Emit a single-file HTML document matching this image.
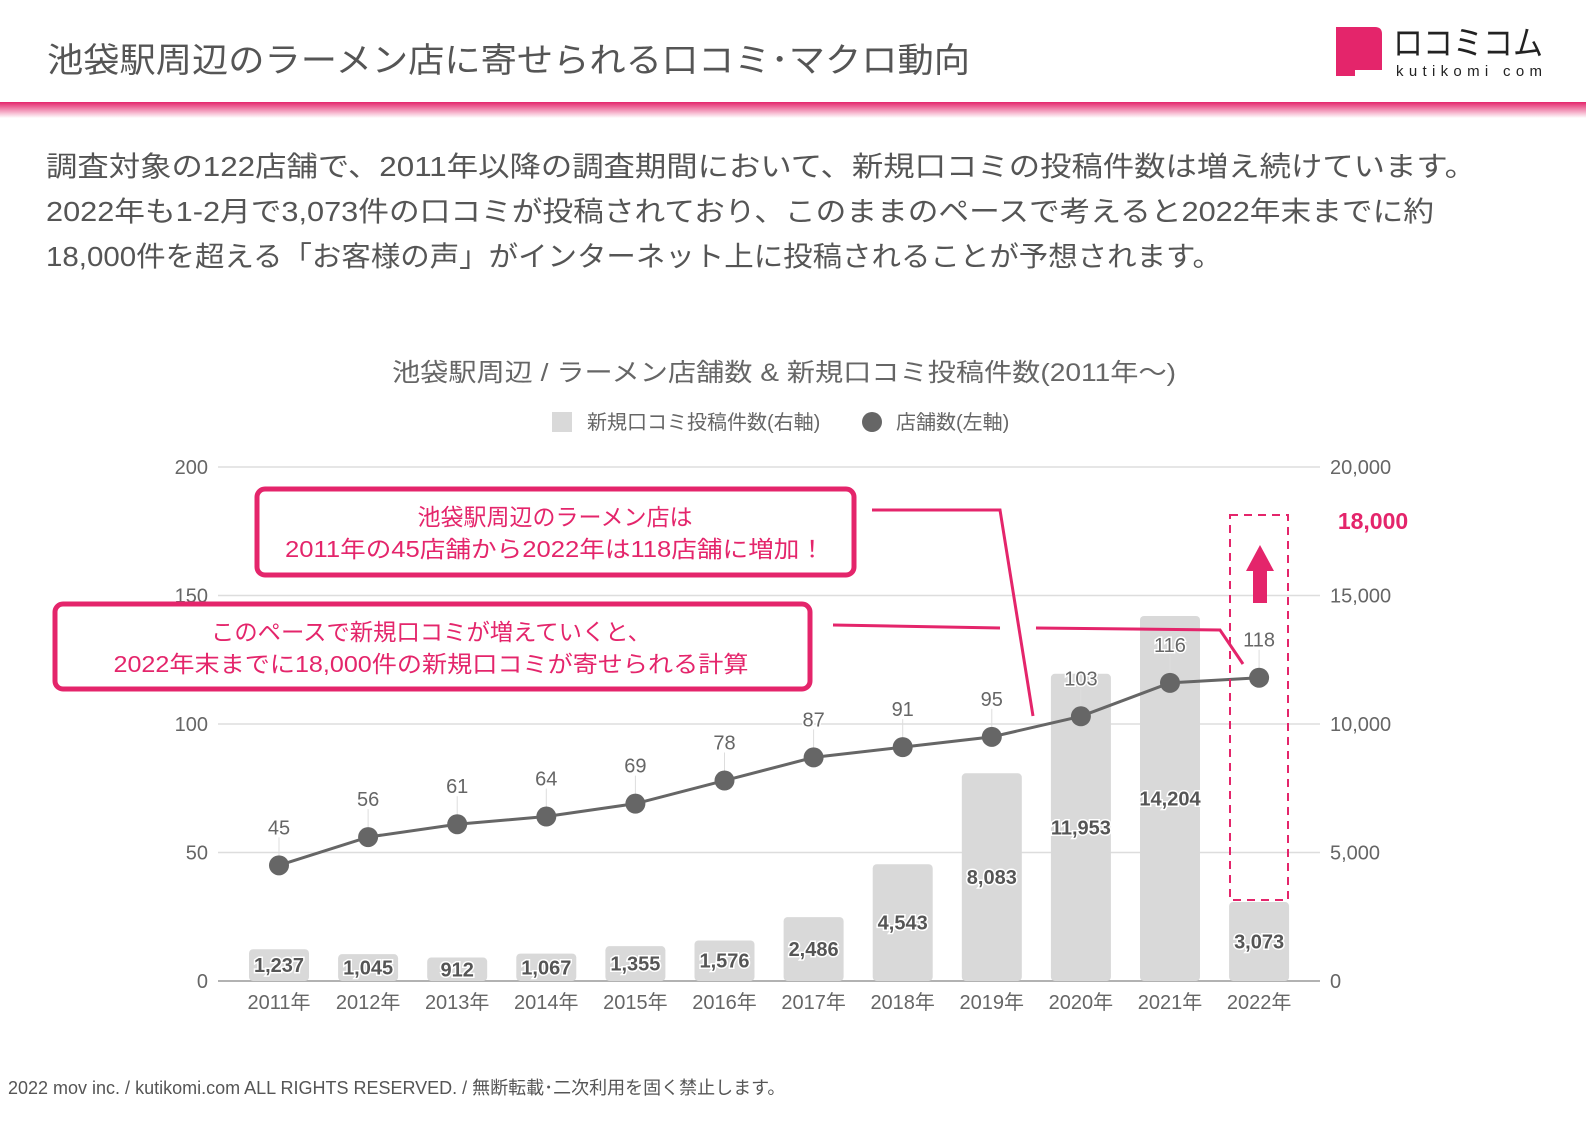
<!DOCTYPE html>
<html><head><meta charset="utf-8"><style>
html,body{margin:0;padding:0;background:#fff;}
svg{display:block;font-family:"Liberation Sans","Noto Sans CJK JP",sans-serif;}
</style></head><body>
<svg id="s" width="1586" height="1122" viewBox="0 0 1586 1122">
<defs><linearGradient id="g" x1="0" y1="0" x2="0" y2="1"><stop offset="0" stop-color="#e4256b"/><stop offset="1" stop-color="#fff"/></linearGradient></defs>
<text x="47" y="72" font-size="34" fill="#555" textLength="923" lengthAdjust="spacingAndGlyphs">池袋駅周辺のラーメン店に寄せられる口コミ･マクロ動向</text>
<rect x="0" y="102" width="1586" height="16" fill="url(#g)"/>
<g>
<path d="M1336 27 H1375 Q1382 27 1382 34 V70 H1355 V76 H1336 Z" fill="#e4256b"/>
<text x="1393" y="55" font-size="34" fill="#222" textLength="150" lengthAdjust="spacingAndGlyphs">ロコミコム</text>
<text x="1396" y="76" font-size="15" fill="#222" textLength="146" lengthAdjust="spacing">kutikomi com</text>
</g>
<g font-size="28" fill="#555">
<text x="46" y="176" textLength="1430" lengthAdjust="spacingAndGlyphs">調査対象の122店舗で、2011年以降の調査期間において、新規口コミの投稿件数は増え続けています。</text>
<text x="46" y="221" textLength="1388" lengthAdjust="spacingAndGlyphs">2022年も1-2月で3,073件の口コミが投稿されており、このままのペースで考えると2022年末までに約</text>
<text x="46" y="266" textLength="1176" lengthAdjust="spacingAndGlyphs">18,000件を超える「お客様の声」がインターネット上に投稿されることが予想されます。</text>
</g>
<text x="784" y="381" font-size="25" fill="#666" text-anchor="middle" textLength="784" lengthAdjust="spacingAndGlyphs">池袋駅周辺 / ラーメン店舗数 &amp; 新規口コミ投稿件数(2011年〜)</text>
<g>
<rect x="552" y="412" width="20" height="20" fill="#d9d9d9"/>
<text x="587" y="429" font-size="20" fill="#666">新規口コミ投稿件数(右軸)</text>
<circle cx="872" cy="422" r="10" fill="#666"/>
<text x="896" y="429" font-size="20" fill="#666">店舗数(左軸)</text>
</g>
<g id="chart"></g>
<g>
<polyline points="872,510 1000,510 1033,716" fill="none" stroke="#e4256b" stroke-width="3"/>
<polyline points="833,625 1000,628" fill="none" stroke="#e4256b" stroke-width="3"/>
<polyline points="1036,628 1220,630 1243,664" fill="none" stroke="#e4256b" stroke-width="3"/>
<rect x="257" y="489" width="597" height="86" rx="8" fill="#fff" stroke="#e4256b" stroke-width="5"/>
<text x="555" y="525" font-size="23" fill="#e4256b" text-anchor="middle">池袋駅周辺のラーメン店は</text>
<text x="555" y="557" font-size="23" fill="#e4256b" text-anchor="middle" textLength="540" lengthAdjust="spacingAndGlyphs">2011年の45店舗から2022年は118店舗に増加！</text>
<rect x="55" y="604" width="755" height="85" rx="8" fill="#fff" stroke="#e4256b" stroke-width="5"/>
<text x="431" y="640" font-size="23" fill="#e4256b" text-anchor="middle" textLength="440" lengthAdjust="spacingAndGlyphs">このペースで新規口コミが増えていくと、</text>
<text x="431" y="672" font-size="23" fill="#e4256b" text-anchor="middle" textLength="635" lengthAdjust="spacingAndGlyphs">2022年末までに18,000件の新規口コミが寄せられる計算</text>
<rect x="1230" y="515" width="58" height="385" fill="none" stroke="#e4256b" stroke-width="2" stroke-dasharray="8,6"/>
<path d="M1253 603 V571 H1246 L1260 545 L1274 571 H1267 V603 Z" fill="#e4256b"/>
<text x="1373" y="529" font-size="23" font-weight="bold" fill="#e4256b" text-anchor="middle">18,000</text>
</g>
<text x="8" y="1094" font-size="18" fill="#555">2022 mov inc. / kutikomi.com ALL RIGHTS RESERVED. / 無断転載･二次利用を固く禁止します。</text>
</svg>
<script>
const years = ["2011年","2012年","2013年","2014年","2015年","2016年","2017年","2018年","2019年","2020年","2021年","2022年"];
const reviews = [1237,1045,912,1067,1355,1576,2486,4543,8083,11953,14204,3073];
const stores = [45,56,61,64,69,78,87,91,95,103,116,118];
const leftTicks = [0,50,100,150,200];
const rightTicks = ["0","5,000","10,000","15,000","20,000"];
const NS="http://www.w3.org/2000/svg";
const g=document.getElementById('chart');
const yL=v=>981-v*(514/200);
const yR=v=>981-v*(514/20000);
const xC=i=>279+i*89.1;
function mk(t,a,p){const e=document.createElementNS(NS,t);for(const k in a)e.setAttribute(k,a[k]);(p||g).appendChild(e);return e;}
leftTicks.forEach((t,i)=>{
  const y=yL(t);
  const l=mk('line',{x1:218,x2:1320,y1:y,y2:y,stroke:i==0?'#999':'#ddd','stroke-width':i==0?1.5:1.5});
  
  
  const a=mk('text',{x:208,y:y+7,'font-size':20,fill:'#666','text-anchor':'end'});a.textContent=t;
  
  
  const b=mk('text',{x:1330,y:y+7,'font-size':20,fill:'#666'});b.textContent=rightTicks[i];
  
  
});
years.forEach((yr,i)=>{
  const x=xC(i),top=yR(reviews[i]);
  const r=mk('rect',{x:x-30,y:top,width:60,height:981-top,rx:4,fill:'#d9d9d9'});
  
  
  const t=mk('text',{x:x,y:(top+981)/2+7,'font-size':20,'font-weight':'bold',fill:'#555','text-anchor':'middle',stroke:'#fff','stroke-width':3,'paint-order':'stroke'});
  t.textContent=reviews[i].toLocaleString('en-US');
  
  
  const xl=mk('text',{x:x,y:1009,'font-size':20,fill:'#666','text-anchor':'middle'});xl.textContent=yr;
  
  
});
const pts=stores.map((v,i)=>xC(i)+','+yL(v)).join(' ');
const pl=mk('polyline',{points:pts,fill:'none',stroke:'#666','stroke-width':3});


stores.forEach((v,i)=>{
  const x=xC(i),y=yL(v);
  mk('line',{x1:x,x2:x,y1:y-28,y2:y-10,stroke:'#ddd','stroke-width':1});
  const c=mk('circle',{cx:x,cy:y,r:10,fill:'#666'});
  
  
  const t=mk('text',{x:x,y:y-31,'font-size':20,fill:'#666','text-anchor':'middle',stroke:'#fff','stroke-width':3,'paint-order':'stroke'});t.textContent=v;
  
  
});
</script>
</body></html>
